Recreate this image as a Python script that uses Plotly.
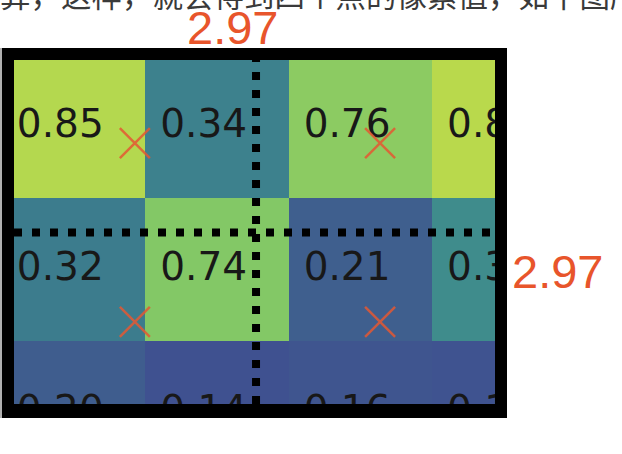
import plotly.graph_objects as go

# ---- data ----
cols = [0, 1, 2, 3]
rows = [0, 1, 2]
values = [
    [0.85, 0.34, 0.76, 0.86],
    [0.32, 0.74, 0.21, 0.38],
    [0.20, 0.14, 0.16, 0.15],
]
cell_labels = [
    ["0.85", "0.34", "0.76", "0.86"],
    ["0.32", "0.74", "0.21", "0.38"],
    ["0.20", "0.14", "0.16", "0.15"],
]
sample_x = [0.43, 2.14, 0.43, 2.14]
sample_y = [0.12, 0.12, 1.37, 1.37]
center_x = 1.275
center_y = 0.745
coord_label = "2.97"
caption = "算，这样，就会得到四个点的像素值，如下图所示"

# ---- layout geometry (pixels) ----
W, H = 622, 454
L, R, T, B = 14, 495, 60, 404


def px(xp):
    return (xp - L) / (R - L)


def py(yp):
    return (B - yp) / (B - T)


# washed-out viridis, as in the photographed screen
scale = [
    [0.0, "#440154"], [0.1, "#482475"], [0.248, "#3f5190"], [0.31, "#3f5f8e"],
    [0.41, "#3c7d8d"], [0.46, "#3f8c8c"], [0.6, "#3aa887"], [0.78, "#84c866"],
    [0.876, "#b4d84f"], [1.0, "#fde725"],
]

fig = go.Figure()

fig.add_trace(go.Heatmap(
    z=values, x=cols, y=rows, colorscale=scale, zmin=-0.14, zmax=0.99,
    showscale=False, hoverinfo="skip",
))

tx, ty, tt = [], [], []
for i, r in enumerate(rows):
    for j, c in enumerate(cols):
        tx.append(c - 0.09)
        ty.append(r + 0.01)
        tt.append(cell_labels[i][j])
fig.add_trace(go.Scatter(
    x=tx, y=ty, text=tt, mode="text", cliponaxis=True,
    textfont=dict(family="DejaVu Sans", size=39, color="#181818"),
    hoverinfo="skip", showlegend=False,
))

fig.add_trace(go.Scatter(
    x=sample_x, y=sample_y, mode="markers", showlegend=False, hoverinfo="skip",
    marker=dict(symbol="x-thin", size=30,
                line=dict(width=2.5, color="rgba(228,88,50,0.85)")),
))

shapes = [
    dict(type="line", xref="x", yref="paper", x0=center_x, x1=center_x, y0=0, y1=1,
         line=dict(color="black", width=8, dash="8px,10px"), layer="above"),
    dict(type="line", xref="paper", yref="y", x0=0, x1=1, y0=center_y, y1=center_y,
         line=dict(color="black", width=8, dash="8px,10px"), layer="above"),
]
for (x0, x1, y0, y1, col) in [
    (2, 507, 48, 60, "black"),
    (2, 507, B, 418, "black"),
    (2, L, 48, 418, "black"),
    (R, 507, 48, 418, "black"),
    (0, 2, 48, 418, "#b0b0b0"),
]:
    shapes.append(dict(type="rect", xref="paper", yref="paper",
                       x0=px(x0), x1=px(x1), y0=py(y1), y1=py(y0),
                       fillcolor=col, line=dict(width=0), layer="above"))

annotations = [
    dict(text=coord_label, xref="paper", yref="paper", x=px(232), y=py(27),
         xanchor="center", yanchor="middle", showarrow=False,
         font=dict(family="Liberation Sans", size=47, color="#e8552b")),
    dict(text=coord_label, xref="paper", yref="paper", x=px(557), y=py(271),
         xanchor="center", yanchor="middle", showarrow=False,
         font=dict(family="Liberation Sans", size=47, color="#e8552b")),
    dict(text=caption, xref="paper", yref="paper", x=px(-2), y=py(-6),
         xanchor="left", yanchor="middle", showarrow=False,
         font=dict(family="Noto Sans CJK SC", size=30.5, color="#3a3a3a")),
]

fig.update_layout(
    width=W, height=H,
    margin=dict(l=L, r=W - R, t=T, b=H - B, pad=0),
    paper_bgcolor="white", plot_bgcolor="white",
    xaxis=dict(range=[(L - 73.2) / 143.4, (R - 73.2) / 143.4], visible=False,
               showgrid=False, zeroline=False, fixedrange=True),
    yaxis=dict(range=[(B - 126) / 143.0, (T - 126) / 143.0], visible=False,
               showgrid=False, zeroline=False, fixedrange=True),
    shapes=shapes, annotations=annotations, showlegend=False,
)

fig.write_html("out.html", config={"displayModeBar": False},
               post_script="document.body.style.margin='0';")
